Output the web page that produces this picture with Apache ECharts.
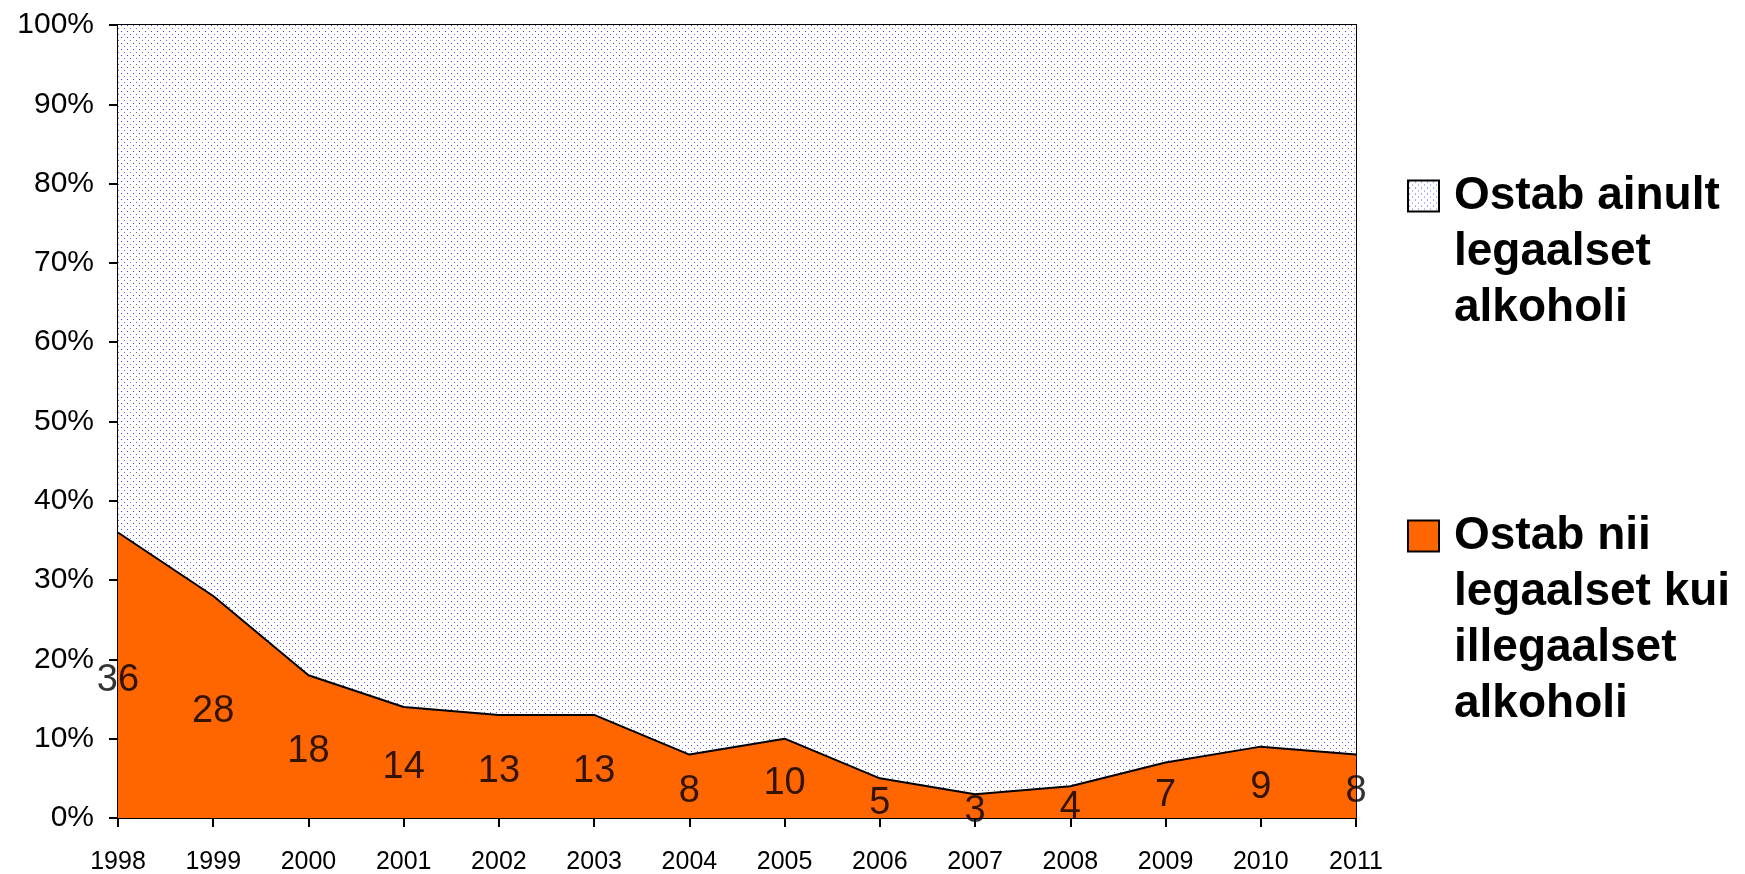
<!DOCTYPE html>
<html>
<head>
    <meta charset="UTF-8">
    <title>Alkohol</title>
    <style>
        html, body { margin: 0; padding: 0; background: #fff; }
        #main { width: 1745px; height: 874px; }
    </style>
</head>
<body>
<div id="main"></div>
<script src="https://cdn.jsdelivr.net/npm/echarts@6/dist/echarts.min.js"></script>
<script type="text/javascript">

    // ---------------- andmed ----------------
    var years = ['1998', '1999', '2000', '2001', '2002', '2003', '2004', '2005', '2006', '2007', '2008', '2009', '2010', '2011'];
    var illegalShare = [36, 28, 18, 14, 13, 13, 8, 10, 5, 3, 4, 7, 9, 8];     // ostab nii legaalset kui illegaalset
    var legalOnlyShare = [64, 72, 82, 86, 87, 87, 92, 90, 95, 97, 96, 93, 91, 92]; // ostab ainult legaalset
    var yTicks = [0, 10, 20, 30, 40, 50, 60, 70, 80, 90, 100];

    var nameLegal = 'Ostab ainult legaalset alkoholi';
    var nameBoth = 'Ostab nii legaalset kui illegaalset alkoholi';

    var FONT = '"Liberation Sans", Arial, Helvetica, sans-serif';

    // sinine punktmuster (nagu exceli täitemuster)
    function dotPattern() {
        var c = document.createElement('canvas');
        c.width = 6;
        c.height = 6;
        var ctx = c.getContext('2d');
        ctx.fillStyle = '#ffffff';
        ctx.fillRect(0, 0, 6, 6);
        ctx.fillStyle = '#4444e0';
        ctx.fillRect(1, 1, 1, 1);
        ctx.fillStyle = '#6a6ae8';
        ctx.fillRect(4, 4, 1, 1);
        return c;
    }
    var pattern = {image: dotPattern(), repeat: 'repeat'};
    var orange = '#ff6600';

    // sildid asuvad oranži ala keskel
    var labelPoints = illegalShare.map(function (v, i) {
        return {value: [i, v / 2], label: {formatter: String(v)}};
    });

    // legendi tekst: tühjad read ees, et esimene rida oleks ikooniga samal kõrgusel
    function legendText(lines) {
        var pad = [];
        for (var i = 1; i < lines.length; i++) pad.push('');
        return pad.concat(lines).join('\n');
    }

    var legendTextStyle = {
        fontSize: 46,
        fontWeight: 'bold',
        color: '#000',
        lineHeight: 56,
        padding: [0, 0, 0, 10],
        fontFamily: FONT
    };

    var myChart = echarts.init(document.getElementById('main'));

    var option = {
        animation: false,
        textStyle: {fontFamily: FONT},
        grid: {
            left: 118,
            right: 389,
            top: 25,
            bottom: 56,
            outerBoundsMode: 'none',
            containLabel: false,
            show: true,
            borderColor: '#000',
            borderWidth: 2,
            backgroundColor: 'transparent'
        },
        legend: [
            {
                left: 1407,
                top: 56,
                padding: 0,
                orient: 'vertical',
                selectedMode: false,
                itemWidth: 31,
                itemHeight: 31,
                data: [{
                    name: nameLegal,
                    icon: 'rect',
                    itemStyle: {color: pattern, borderColor: '#000', borderWidth: 2}
                }],
                formatter: function () { return legendText(['Ostab ainult', 'legaalset', 'alkoholi']); },
                textStyle: legendTextStyle
            },
            {
                left: 1407,
                top: 340,
                padding: 0,
                orient: 'vertical',
                selectedMode: false,
                itemWidth: 31,
                itemHeight: 31,
                data: [{
                    name: nameBoth,
                    icon: 'rect',
                    itemStyle: {color: orange, borderColor: '#000', borderWidth: 2}
                }],
                formatter: function () { return legendText(['Ostab nii', 'legaalset kui', 'illegaalset', 'alkoholi']); },
                textStyle: legendTextStyle
            }
        ],
        xAxis: {
            type: 'category',
            boundaryGap: false,
            data: years,
            axisLine: {lineStyle: {color: '#000', width: 2}},
            axisTick: {show: true, inside: false, length: 9, lineStyle: {color: '#000', width: 2}},
            axisLabel: {color: '#000', fontSize: 25, margin: 32, fontFamily: FONT},
            splitLine: {show: false}
        },
        yAxis: {
            type: 'value',
            min: yTicks[0],
            max: yTicks[yTicks.length - 1],
            interval: yTicks[1] - yTicks[0],
            axisLine: {show: true, lineStyle: {color: '#000', width: 2}},
            axisTick: {show: true, inside: false, length: 9, lineStyle: {color: '#000', width: 2}},
            axisLabel: {color: '#000', fontSize: 30, margin: 24, formatter: '{value}%', fontFamily: FONT},
            splitLine: {show: false}
        },
        series: [
            {
                name: nameBoth,
                type: 'line',
                stack: 'kokku',
                symbol: 'none',
                data: illegalShare,
                lineStyle: {color: '#000', width: 2},
                itemStyle: {color: orange},
                areaStyle: {color: orange, opacity: 1},
                z: 3
            },
            {
                name: nameLegal,
                type: 'line',
                stack: 'kokku',
                symbol: 'none',
                data: legalOnlyShare,
                lineStyle: {width: 0},
                itemStyle: {color: '#4444e0'},
                areaStyle: {color: pattern, opacity: 1},
                z: 2
            },
            {
                name: 'sildid',
                type: 'scatter',
                symbolSize: 1,
                silent: true,
                clip: false,
                itemStyle: {color: 'rgba(0,0,0,0)'},
                label: {
                    show: true,
                    position: 'inside',
                    offset: [0, 5],
                    color: '#000',
                    fontSize: 38,
                    fontFamily: FONT
                },
                data: labelPoints,
                z: 10
            }
        ]
    };
    myChart.setOption(option);

</script>
</body>
</html>
